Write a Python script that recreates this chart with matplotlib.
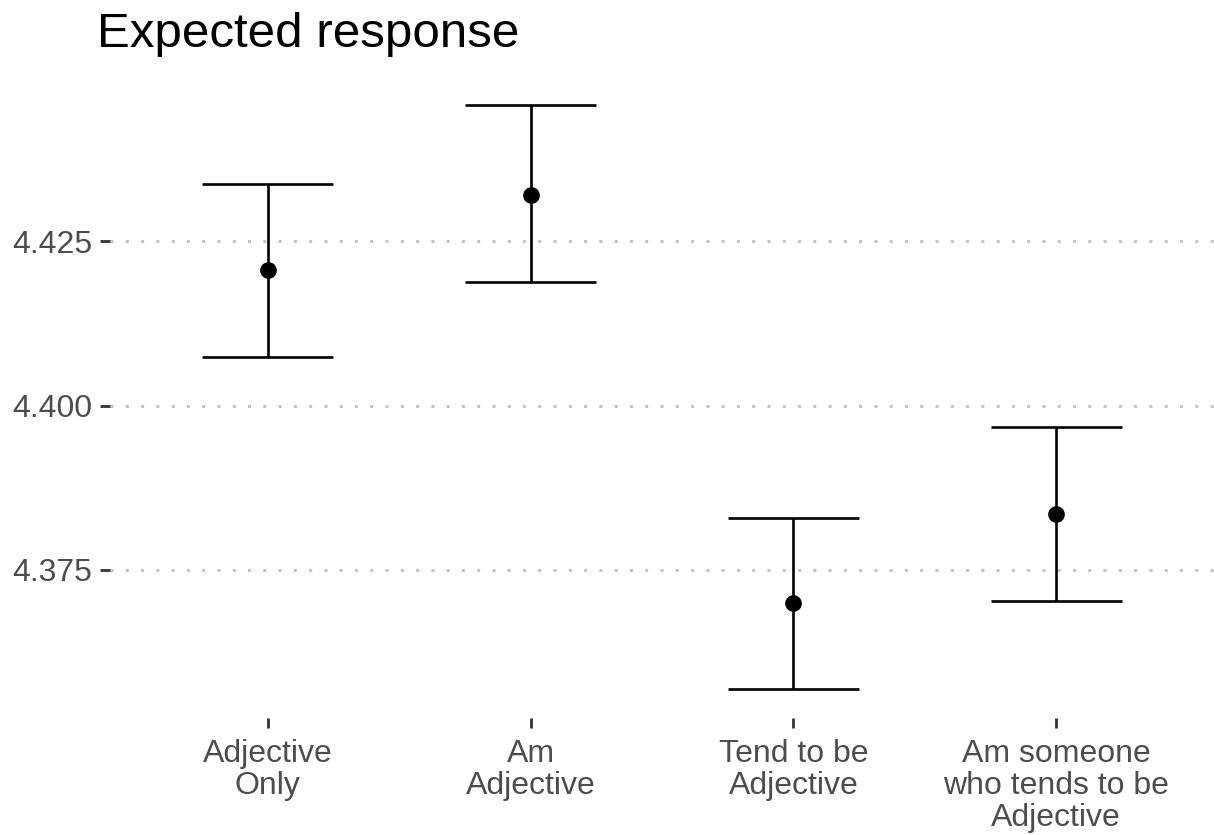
import numpy as np
import matplotlib.pyplot as plt

plt.rcParams['font.family'] = ['Liberation Sans', 'DejaVu Sans']

# estimates with lower / upper bounds for each wording
labels = ["Adjective\nOnly", "Am\nAdjective", "Tend to be\nAdjective",
          "Am someone\nwho tends to be\nAdjective"]
estimate = [4.4206, 4.4321, 4.3700, 4.3835]
lower = [4.4074, 4.4188, 4.3569, 4.3703]
upper = [4.4337, 4.4457, 4.3829, 4.3968]
yticks = [4.375, 4.400, 4.425]

x = np.arange(1, len(labels) + 1)
est = np.array(estimate)
lo = np.array(lower)
hi = np.array(upper)

fig = plt.figure(figsize=(12.14, 8.35), dpi=100)
ax = fig.add_axes([110 / 1214, 1 - 718 / 835, 1 - 110 / 1214, (718 - 76) / 835])

cap = 0.25
lw = 1.9
ax.vlines(x, lo, hi, color='black', lw=lw)
ax.hlines(lo, x - cap, x + cap, color='black', lw=lw)
ax.hlines(hi, x - cap, x + cap, color='black', lw=lw)
ax.plot(x, est, 'o', color='black', ms=11, zorder=3)

# ggplot-like 5% expansion
rng = hi.max() - lo.min()
ax.set_ylim(lo.min() - 0.05 * rng, hi.max() + 0.05 * rng)
ax.set_xlim(0.4, 4.6)

ax.set_yticks(yticks)
ax.set_yticklabels(["%.3f" % v for v in yticks])
ax.set_xticks(x)
ax.set_xticklabels(labels, linespacing=1.1)
ax.yaxis.grid(True, color='#C4C4C4', lw=2.2, linestyle=(0, (1, 4)))
ax.set_axisbelow(True)
for s in ax.spines.values():
    s.set_visible(False)
ax.tick_params(axis='both', length=7, width=2.0, color='#333333',
               labelcolor='#4D4D4D', labelsize=23)
ax.tick_params(axis='x', pad=8)
ax.tick_params(axis='y', pad=6)

fig.text(97 / 1214, 1 - 47 / 835, "Expected response", fontsize=35.5,
         ha='left', va='baseline')

fig.savefig('out.png', dpi=100)
